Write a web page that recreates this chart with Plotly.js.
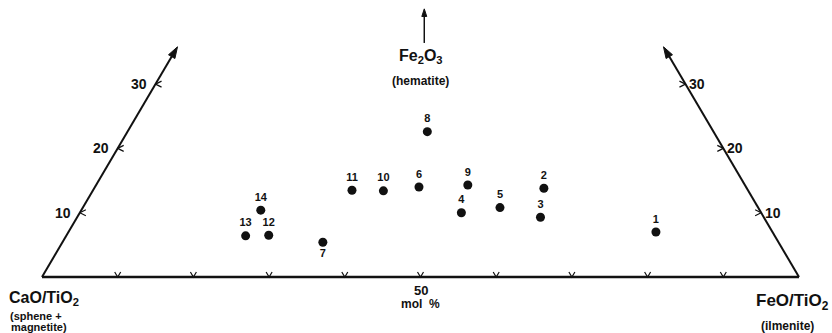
<!DOCTYPE html>
<html><head><meta charset="utf-8">
<script src="https://cdn.plot.ly/plotly-3.0.1.min.js"></script>
<style>html,body{margin:0;padding:0;background:#fff}</style>
</head><body>
<div id="chart" style="width:832px;height:333px"></div>
<script>
// Sample numbers
const sampleLabels = ['1','2','3','4','5','6','7','8','9','10','11','12','13','14'];
// FeO/TiO2 component (mol %)
const feoTio2 = [77.6, 59.4, 61.2, 50.4, 55.1, 42.8, 34.4, 39.6, 49.1, 38.4, 34.2, 26.7, 23.7, 23.7];
// Fe2O3 (hematite) component (mol %)
const fe2o3 = [7.0, 13.8, 9.3, 10.0, 10.8, 14.0, 5.4, 22.6, 14.3, 13.4, 13.5, 6.5, 6.4, 10.4];
// Axis ticks
const baseTicks = [10, 20, 30, 40, 50, 60, 70, 80, 90];
const sideTicks = [10, 20, 30];
const sideTickLabels = ['10', '20', '30'];
const sideTop = 35.8;   // Fe2O3 reached by the truncated side axes
const baseLabel = '50';

// ternary -> cartesian (x along base in mol %, y = Fe2O3 %)
const tx = (c, a) => c + a / 2;
const ty = (c, a) => a;

const X = feoTio2.map((c, i) => tx(c, fe2o3[i]));
const Y = feoTio2.map((c, i) => ty(c, fe2o3[i]));

const XR = [-5.548, 104.36], YR = [-8.709, 43.08];
const W = 832, H = 333;
const pxX = (XR[1] - XR[0]) / W, pxY = (YR[1] - YR[0]) / H;

// chevron ticks
const tkx = [], tky = [];
baseTicks.forEach(t => {
  tkx.push(t - 3 * pxX, t, t + 3 * pxX, null);
  tky.push(5 * pxY, 0, 5 * pxY, null);
});
sideTicks.forEach(a => {
  const lx = tx(0, a), ly = ty(0, a);
  tkx.push(lx + 6 * pxX, lx, lx + 6 * pxX, null);
  tky.push(ly + 3 * pxY, ly, ly - 3 * pxY, null);
  const rx = tx(100 - a, a), ry = ty(100 - a, a);
  tkx.push(rx - 6 * pxX, rx, rx - 6 * pxX, null);
  tky.push(ry + 3 * pxY, ry, ry - 3 * pxY, null);
});

const F = 'Liberation Sans, Arial, sans-serif';
const ink = '#111';

function arrowLine(x0, y0, x1, y1, w, s) {
  return { x: [x0, x1], y: [y0, y1], mode: 'lines+markers', line: { color: ink, width: w },
    marker: { symbol: ['circle', 'arrow'], size: [0, s], angleref: 'previous', color: ink, opacity: 1,
      line: { width: 1, color: ink } },
    hoverinfo: 'skip', cliponaxis: false };
}

const traces = [
  { x: [0, 100], y: [0, 0], mode: 'lines', line: { color: ink, width: 2.4 }, hoverinfo: 'skip' },
  arrowLine(0, 0, tx(0, sideTop), ty(0, sideTop), 2, 12),
  arrowLine(100, 0, tx(100 - sideTop, sideTop), ty(100 - sideTop, sideTop), 2, 12),
  arrowLine(50.5, 36.4, 50.5, 41.7, 1.5, 8),
  { x: tkx, y: tky, mode: 'lines', line: { color: ink, width: 1.2 }, hoverinfo: 'skip' },
  {
    x: X, y: Y, mode: 'markers+text', text: sampleLabels,
    textposition: sampleLabels.map(l => l === '7' ? 'bottom center' : 'top center'),
    textfont: { family: F, size: 11, color: ink, weight: 'bold' },
    marker: { color: ink, size: 9 }, cliponaxis: false, hoverinfo: 'skip'
  }
];

const ann = [];
const fnt = (s) => ({ family: F, size: s, color: ink, weight: 'bold' });
// side tick labels
sideTicks.forEach((a, i) => {
  ann.push({ x: tx(0, a), y: ty(0, a), xref: 'x', yref: 'y', text: sideTickLabels[i], showarrow: false,
    xanchor: 'right', yanchor: 'middle', xshift: -7, font: fnt(14) });
  ann.push({ x: tx(100 - a, a), y: ty(100 - a, a), xref: 'x', yref: 'y', text: sideTickLabels[i], showarrow: false,
    xanchor: 'left', yanchor: 'middle', xshift: 2, font: fnt(14) });
});
// apex title
ann.push({ x: 50, y: 36.4, xref: 'x', yref: 'y', text: 'Fe<sub>2</sub>O<sub>3</sub>', showarrow: false,
  xanchor: 'center', yanchor: 'top', yshift: -2, font: fnt(16) });
ann.push({ x: 50, y: 36.4, xref: 'x', yref: 'y', text: '(hematite)', showarrow: false,
  xanchor: 'center', yanchor: 'top', yshift: -29, font: fnt(12) });
// base label
ann.push({ x: 50, y: 0, xref: 'x', yref: 'y', text: baseLabel, showarrow: false,
  xanchor: 'center', yanchor: 'top', yshift: -4, font: fnt(13) });
ann.push({ x: 50, y: 0, xref: 'x', yref: 'y', text: 'mol  %', showarrow: false,
  xanchor: 'center', yanchor: 'top', yshift: -18, font: fnt(12) });
// vertex labels
ann.push({ x: 0, y: 0, xref: 'x', yref: 'y', text: 'CaO/TiO<sub>2</sub>', showarrow: false,
  xanchor: 'left', yanchor: 'top', xshift: -35, yshift: -10, font: fnt(16) });
ann.push({ x: 0, y: 0, xref: 'x', yref: 'y', text: '(sphene +', showarrow: false,
  xanchor: 'left', yanchor: 'middle', xshift: -34, yshift: -39, font: fnt(11) });
ann.push({ x: 0, y: 0, xref: 'x', yref: 'y', text: 'magnetite)', showarrow: false,
  xanchor: 'left', yanchor: 'middle', xshift: -33, yshift: -50, font: fnt(11) });
ann.push({ x: 100, y: 0, xref: 'x', yref: 'y', text: 'FeO/TiO<sub>2</sub>', showarrow: false,
  xanchor: 'right', yanchor: 'top', xshift: 32, yshift: -12, font: fnt(17) });
ann.push({ x: 100, y: 0, xref: 'x', yref: 'y', text: '(ilmenite)', showarrow: false,
  xanchor: 'center', yanchor: 'top', xshift: -11, yshift: -40, font: fnt(12) });

const layout = {
  width: W, height: H, margin: { l: 0, r: 0, t: 0, b: 0 },
  paper_bgcolor: '#fff', plot_bgcolor: '#fff', showlegend: false,
  xaxis: { range: XR, visible: false, fixedrange: true },
  yaxis: { range: YR, visible: false, fixedrange: true },
  annotations: ann
};
Plotly.newPlot('chart', traces, layout, { staticPlot: true, displayModeBar: false });
</script>
</body></html>
